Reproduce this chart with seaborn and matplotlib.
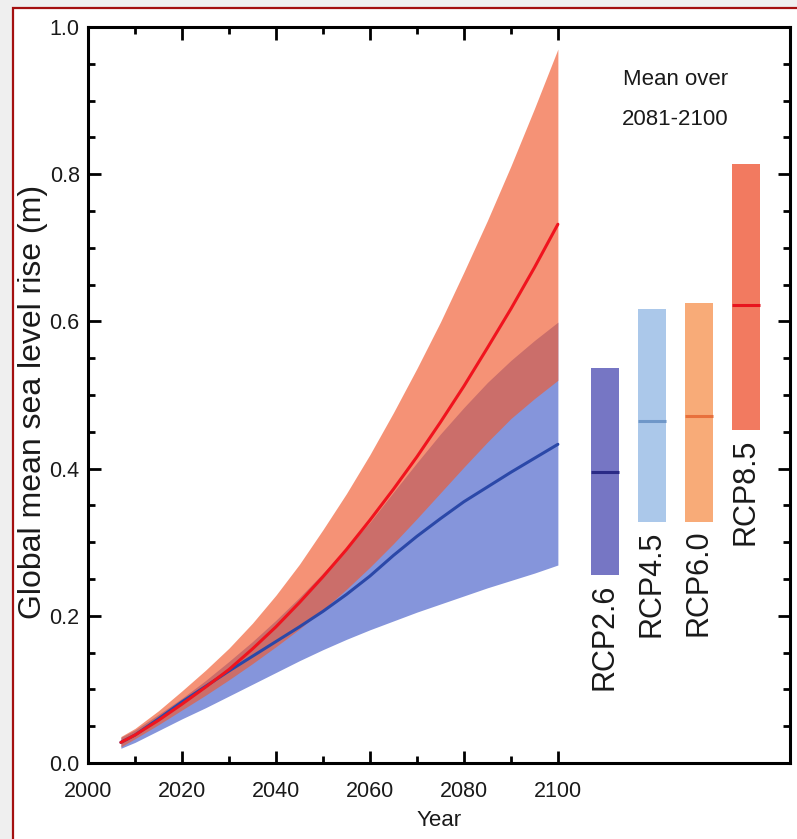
import matplotlib
matplotlib.use("Agg")
import matplotlib.pyplot as plt
from matplotlib.patches import Rectangle
import seaborn as sns

# ---------------- data ----------------
years = [2007, 2010, 2015, 2020, 2025, 2030, 2035, 2040, 2045, 2050,
         2055, 2060, 2065, 2070, 2075, 2080, 2085, 2090, 2095, 2100]

rcp26_mean  = [0.028, 0.038, 0.060, 0.083, 0.104, 0.125, 0.145, 0.165, 0.185, 0.206,
               0.229, 0.254, 0.282, 0.308, 0.332, 0.355, 0.375, 0.395, 0.414, 0.433]
rcp26_upper = [0.035, 0.045, 0.066, 0.088, 0.112, 0.138, 0.165, 0.194, 0.225, 0.258,
               0.292, 0.327, 0.368, 0.408, 0.447, 0.483, 0.517, 0.547, 0.574, 0.599]
rcp26_lower = [0.020, 0.028, 0.044, 0.060, 0.075, 0.091, 0.107, 0.123, 0.139, 0.154,
               0.168, 0.181, 0.193, 0.205, 0.216, 0.227, 0.238, 0.248, 0.258, 0.269]

rcp85_mean  = [0.028, 0.038, 0.058, 0.080, 0.103, 0.127, 0.155, 0.185, 0.218, 0.253,
               0.290, 0.330, 0.372, 0.416, 0.463, 0.512, 0.564, 0.617, 0.673, 0.732]
rcp85_upper = [0.036, 0.047, 0.071, 0.098, 0.126, 0.156, 0.190, 0.228, 0.270, 0.317,
               0.366, 0.419, 0.476, 0.536, 0.599, 0.667, 0.737, 0.811, 0.889, 0.970]
rcp85_lower = [0.022, 0.033, 0.052, 0.072, 0.092, 0.113, 0.135, 0.158, 0.182, 0.208,
               0.236, 0.266, 0.298, 0.332, 0.367, 0.402, 0.436, 0.468, 0.495, 0.520]

scenarios = ["RCP2.6", "RCP4.5", "RCP6.0", "RCP8.5"]
bar_low  = [0.255, 0.327, 0.328, 0.452]
bar_mean = [0.395, 0.465, 0.472, 0.622]
bar_high = [0.537, 0.617, 0.625, 0.814]

xtick_vals = [2000, 2020, 2040, 2060, 2080, 2100]
xtick_labels = ["2000", "2020", "2040", "2060", "2080", "2100"]
ytick_vals = [0.0, 0.2, 0.4, 0.6, 0.8, 1.0]
ytick_labels = ["0.0", "0.2", "0.4", "0.6", "0.8", "1.0"]

# ---------------- style ----------------
sns.set_style("ticks")
fonts = ["Liberation Sans", "DejaVu Sans"]
plt.rcParams["font.family"] = fonts
txt = "#1a1a1a"

bar_colors = ["#7676c4", "#abc8ea", "#f8ab78", "#f27a60"]
mean_colors = ["#2a2a86", "#6f97c8", "#e8703c", "#e8141e"]

fig = plt.figure(figsize=(7.97, 8.39), dpi=100)
fig.patch.set_facecolor("#efefef")
frame = Rectangle((13 / 797, -0.2), 1.2, 1 - 8 / 839 + 0.2, transform=fig.transFigure,
                  facecolor="white", edgecolor="#a41010", linewidth=1.6, zorder=-5)
fig.add_artist(frame)

ax = fig.add_axes([88 / 797, 76 / 839, (790 - 88) / 797, (763 - 27) / 839])
ax.set_facecolor("white")

# uncertainty bands
ax.fill_between(years, rcp26_lower, rcp26_upper, color="#7f8fd9", alpha=0.95,
                linewidth=0, zorder=1)
ax.fill_between(years, rcp85_lower, rcp85_upper, color="#f05a30", alpha=0.66,
                linewidth=0, zorder=2)

# mean lines
sns.lineplot(x=years, y=rcp26_mean, color="#2b48a8", linewidth=2.2, ax=ax, zorder=3)
sns.lineplot(x=years, y=rcp85_mean, color="#f0141e", linewidth=2.2, ax=ax, zorder=4)

# bars: mean over 2081-2100
bar_x = [2110, 2120, 2130, 2140]
bar_w = 6
heights = [h - l for h, l in zip(bar_high, bar_low)]
ax.bar(bar_x, heights, bottom=bar_low, width=bar_w, color=bar_colors,
       linewidth=0, zorder=2)
for xc, m, mc in zip(bar_x, bar_mean, mean_colors):
    ax.hlines(m, xc - bar_w / 2, xc + bar_w / 2, color=mc, linewidth=2.2, zorder=3)
for xc, lo, name in zip(bar_x, bar_low, scenarios):
    ax.text(xc, lo - 0.011, name, rotation=90, ha="center", va="top",
            fontsize=22, color=txt)

ax.text(2125, 0.928, "Mean over", ha="center", va="center", fontsize=16, color=txt)
ax.text(2125, 0.874, "2081-2100", ha="center", va="center", fontsize=16, color=txt)

# axes
ax.set_xlim(2000, 2149.4)
ax.set_ylim(0, 1.0)
ax.set_xticks(xtick_vals)
ax.set_xticklabels(xtick_labels)
ax.set_xticks([2010, 2030, 2050, 2070, 2090], minor=True)
ax.set_yticks(ytick_vals)
ax.set_yticklabels(ytick_labels)
ax.set_yticks([0.05, 0.1, 0.15, 0.25, 0.3, 0.35, 0.45, 0.5, 0.55, 0.65, 0.7,
               0.75, 0.85, 0.9, 0.95], minor=True)
ax.tick_params(which="both", direction="in", top=True, right=True, width=2,
               color="black", labelcolor=txt)
ax.tick_params(which="major", length=9, labelsize=15.5)
ax.tick_params(which="minor", length=5)
ax.tick_params(axis="x", which="major", pad=13)
ax.tick_params(axis="y", which="major", pad=6)
for s in ax.spines.values():
    s.set_linewidth(2.2)
    s.set_color("black")

ax.set_xlabel("Year", fontsize=16, labelpad=6, color=txt)
ax.set_ylabel("Global mean sea level rise (m)", fontsize=23, color=txt)
ax.yaxis.set_label_coords(-0.057, 0.49)

fig.savefig("out.png", dpi=100, facecolor=fig.get_facecolor())
